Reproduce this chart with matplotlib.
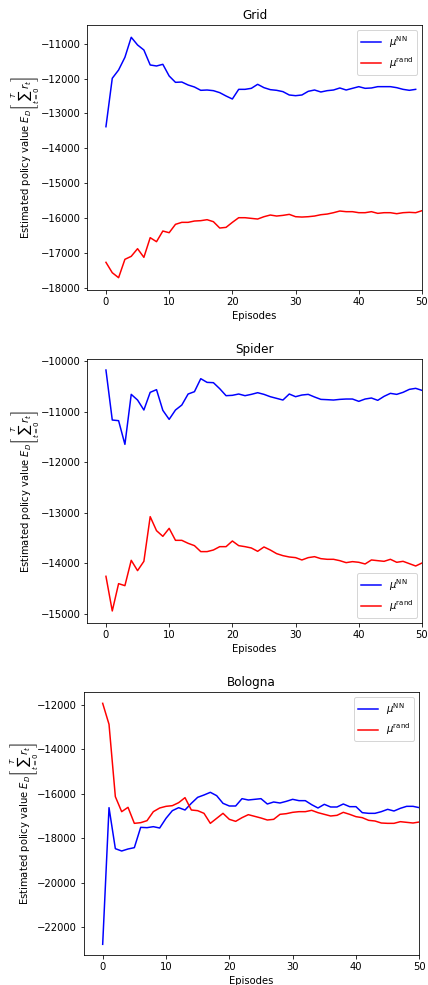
import matplotlib
matplotlib.use("Agg")
import matplotlib.pyplot as plt
import numpy as np

# ---------------- data ----------------
grid_nn = [-13379, -11990, -11752, -11388, -10813, -11034, -11178, -11608, -11637, -11589,
           -11924, -12106, -12097, -12182, -12240, -12335, -12326, -12345, -12402, -12498,
           -12584, -12307, -12307, -12278, -12163, -12259, -12316, -12335, -12373, -12469,
           -12489, -12469, -12364, -12326, -12383, -12345, -12326, -12268, -12326, -12278,
           -12230, -12278, -12268, -12230, -12230, -12230, -12259, -12307, -12335, -12307]
grid_rand = [-17270, -17568, -17711, -17184, -17098, -16879, -17127, -16563, -16678, -16372,
             -16420, -16180, -16123, -16123, -16085, -16075, -16047, -16104, -16286, -16267,
             -16123, -15990, -15990, -16009, -16028, -15961, -15913, -15942, -15923, -15894,
             -15961, -15971, -15961, -15942, -15904, -15885, -15846, -15798, -15817, -15817,
             -15846, -15846, -15817, -15865, -15846, -15846, -15875, -15846, -15836, -15846,
             -15788]

spider_nn = [-10178, -11166, -11179, -11647, -10659, -10771, -10968, -10619, -10566, -10975,
             -11153, -10968, -10870, -10652, -10606, -10349, -10422, -10428, -10547, -10685,
             -10678, -10652, -10685, -10659, -10626, -10659, -10705, -10738, -10771, -10652,
             -10705, -10672, -10659, -10711, -10758, -10764, -10771, -10758, -10751, -10751,
             -10797, -10751, -10731, -10777, -10698, -10639, -10659, -10619, -10560, -10540,
             -10580]
spider_rand = [-14255, -14940, -14400, -14440, -13939, -14143, -13959, -13076, -13353, -13465,
               -13307, -13544, -13544, -13603, -13649, -13767, -13767, -13735, -13669, -13669,
               -13557, -13649, -13669, -13695, -13761, -13675, -13735, -13807, -13847, -13873,
               -13886, -13932, -13886, -13867, -13906, -13919, -13919, -13946, -13985, -13965,
               -13978, -14011, -13932, -13946, -13959, -13919, -13978, -13959, -14005, -14051,
               -13992]

bologna_nn = [-22765, -16618, -18462, -18567, -18477, -18417, -17503, -17518, -17473, -17533,
              -17098, -16753, -16618, -16723, -16423, -16153, -16048, -15928, -16078, -16423,
              -16543, -16543, -16213, -16273, -16243, -16213, -16453, -16363, -16408, -16333,
              -16243, -16303, -16303, -16483, -16633, -16468, -16588, -16588, -16453, -16573,
              -16573, -16843, -16873, -16873, -16798, -16693, -16768, -16648, -16558, -16558,
              -16618]
bologna_rand = [-11925, -12869, -16123, -16798, -16603, -17323, -17293, -17203, -16798, -16633,
                -16558, -16528, -16393, -16168, -16723, -16753, -16873, -17323, -17098, -16873,
                -17143, -17233, -17068, -16933, -17008, -17083, -17173, -17143, -16918, -16888,
                -16828, -16798, -16798, -16738, -16843, -16918, -16993, -16963, -16828, -16918,
                -17023, -17068, -17188, -17218, -17308, -17323, -17323, -17248, -17278, -17308,
                -17263]

titles = ["Grid", "Spider", "Bologna"]
labels = [r"$\mu^{\mathrm{NN}}$", r"$\mu^{\mathrm{rand}}$"]
xlabel = "Episodes"
ylabel = r"Estimated policy value $E_D\left[\sum_{t=0}^{T} r_t\right]$"

# ---------------- layout ----------------
W, H = 428, 985
fig = plt.figure(figsize=(W / 72, H / 72), dpi=72)

def px_axes(l, t, r, b):
    return fig.add_axes([l / W, 1 - b / H, (r - l) / W, (b - t) / H])

panels = [
    dict(rect=(87.3, 25, 422, 290), nn=grid_nn, rand=grid_rand,
         ylim=(-18064, -10461), loc="upper right", yticks=np.arange(-18000, -10999, 1000)),
    dict(rect=(87.3, 359, 422, 622.7), nn=spider_nn, rand=spider_rand,
         ylim=(-15172, -9960), loc="lower right", yticks=np.arange(-15000, -9999, 1000)),
    dict(rect=(84, 691.7, 419.3, 955), nn=bologna_nn, rand=bologna_rand,
         ylim=(-23245, -11402), loc="upper right", yticks=np.arange(-22000, -11999, 2000)),
]

label_baseline_px = [29.5, 29.5, 28.5]

for title, p, bpx in zip(titles, panels, label_baseline_px):
    ax = px_axes(*p["rect"])
    ax.plot(np.arange(len(p["nn"])), p["nn"], color="blue", lw=1.5, label=labels[0])
    ax.plot(np.arange(len(p["rand"])), p["rand"], color="red", lw=1.5, label=labels[1])
    ax.set_xlim(-2.95, 50)
    ax.set_ylim(*p["ylim"])
    ax.set_yticks(p["yticks"])
    ax.set_xticks([0, 10, 20, 30, 40, 50])
    ax.set_title(title, fontsize=12)
    ax.set_xlabel(xlabel, fontsize=10)
    ax.set_ylabel(ylabel, fontsize=10, va="baseline")
    l, t, r, b = p["rect"]
    ax.yaxis.set_label_coords((bpx - l) / (r - l), 0.5)
    ax.tick_params(labelsize=10)
    ax.legend(loc=p["loc"], fontsize=10)

fig.savefig("out.png", dpi=72)
